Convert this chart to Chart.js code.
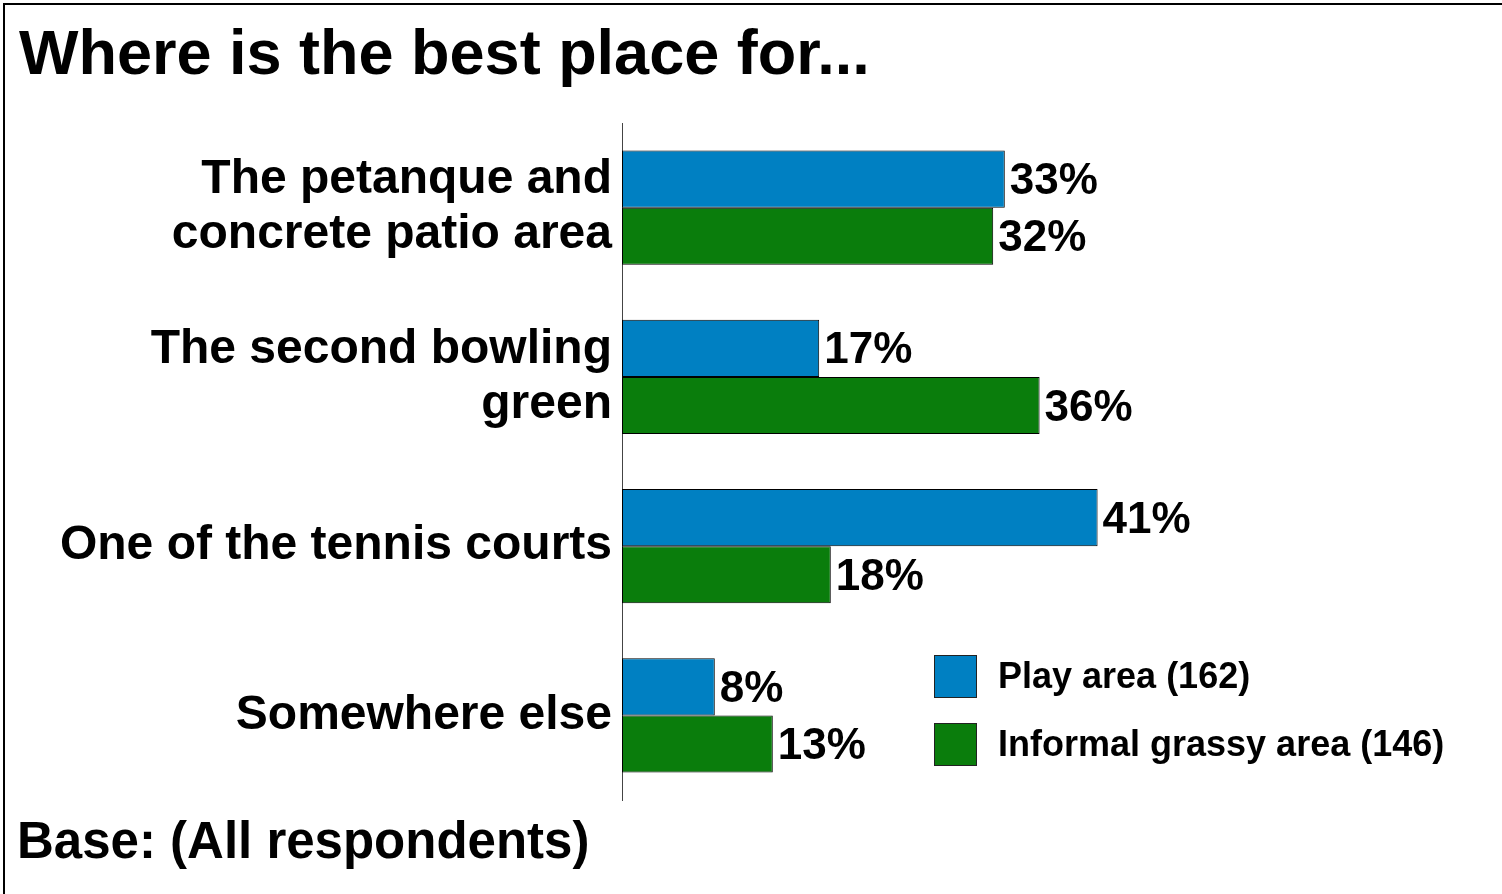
<!DOCTYPE html>
<html>
<head>
<meta charset="utf-8">
<script src="https://cdn.jsdelivr.net/npm/chart.js@4/dist/chart.umd.min.js"></script>
<style>
  body { margin: 0; background: #fff; }
  #wrap { position: relative; width: 1502px; height: 894px; overflow: hidden; }
  #frame { position: absolute; left: 3px; top: 3px; width: 1510px; height: 900px;
           border-top: 2px solid #000; border-left: 2px solid #000; }
  #title { position: absolute; left: 19px; top: 16px; font: bold 63px "Liberation Sans", Arial, sans-serif; color: #000; }
  #base { position: absolute; left: 17px; top: 811px; font: bold 51px "Liberation Sans", Arial, sans-serif; color: #000; }
  canvas { position: absolute; left: 0; top: 0; }
</style>
</head>
<body>
<div id="wrap">
  <div id="frame"></div>
  <div id="title">Where is the best place for...</div>
  <div id="base">Base: (All respondents)</div>
  <canvas id="chart" width="1502" height="894"></canvas>
</div>
<script>
// Data
const categories = [
  ['The petanque and', 'concrete patio area'],
  ['The second bowling', 'green'],
  'One of the tennis courts',
  'Somewhere else'
];
const playArea = [33, 17, 41, 8];
const grassyArea = [32, 36, 18, 13];
const seriesNames = ['Play area (162)', 'Informal grassy area (146)'];
const seriesColors = ['#0080c2', '#0a7d0c'];

const FONT = '"Liberation Sans", Arial, sans-serif';

// Value labels at the end of each bar
const valueLabels = {
  id: 'valueLabels',
  afterDatasetsDraw(chart) {
    const ctx = chart.ctx;
    ctx.save();
    ctx.font = 'bold 44px ' + FONT;
    ctx.fillStyle = '#000';
    ctx.textBaseline = 'middle';
    ctx.textAlign = 'left';
    chart.data.datasets.forEach((ds, i) => {
      chart.getDatasetMeta(i).data.forEach((bar, j) => {
        ctx.fillText(ds.data[j] + '%', bar.x + 5, bar.y + 3);
      });
    });
    ctx.restore();
  }
};

// Legend boxes at the lower right
const boxLegend = {
  id: 'boxLegend',
  afterDraw(chart) {
    const ctx = chart.ctx;
    ctx.save();
    ctx.font = 'bold 36px ' + FONT;
    ctx.textBaseline = 'middle';
    chart.data.datasets.forEach((ds, i) => {
      const y = 655 + i * 68;
      ctx.fillStyle = ds.backgroundColor;
      ctx.fillRect(934, y, 43, 43);
      ctx.strokeStyle = '#222';
      ctx.lineWidth = 1;
      ctx.strokeRect(934.5, y + 0.5, 42, 42);
      ctx.fillStyle = '#000';
      ctx.fillText(ds.label, 998, y + 23);
    });
    ctx.restore();
  }
};

new Chart(document.getElementById('chart'), {
  type: 'bar',
  data: {
    labels: categories,
    datasets: [
      { label: seriesNames[0], data: playArea, backgroundColor: seriesColors[0],
        borderColor: '#000', borderWidth: 1, borderSkipped: false },
      { label: seriesNames[1], data: grassyArea, backgroundColor: seriesColors[1],
        borderColor: '#000', borderWidth: 1, borderSkipped: false }
    ]
  },
  options: {
    indexAxis: 'y',
    responsive: false,
    animation: false,
    layout: { padding: { top: 123, bottom: 94, left: 0, right: 10 } },
    datasets: { bar: { categoryPercentage: 0.674, barPercentage: 1 } },
    plugins: {
      legend: { display: false },
      tooltip: { enabled: false }
    },
    scales: {
      x: { display: false, min: 0, max: 75 },
      y: {
        afterFit: (s) => { s.width = 622; },
        grid: { display: false, drawTicks: false },
        border: { display: true, color: '#444', width: 1 },
        ticks: {
          color: '#000',
          padding: 10,
          font: { family: FONT, size: 48, weight: 'bold', lineHeight: 1.15 }
        }
      }
    }
  },
  plugins: [valueLabels, boxLegend]
});
</script>
</body>
</html>
